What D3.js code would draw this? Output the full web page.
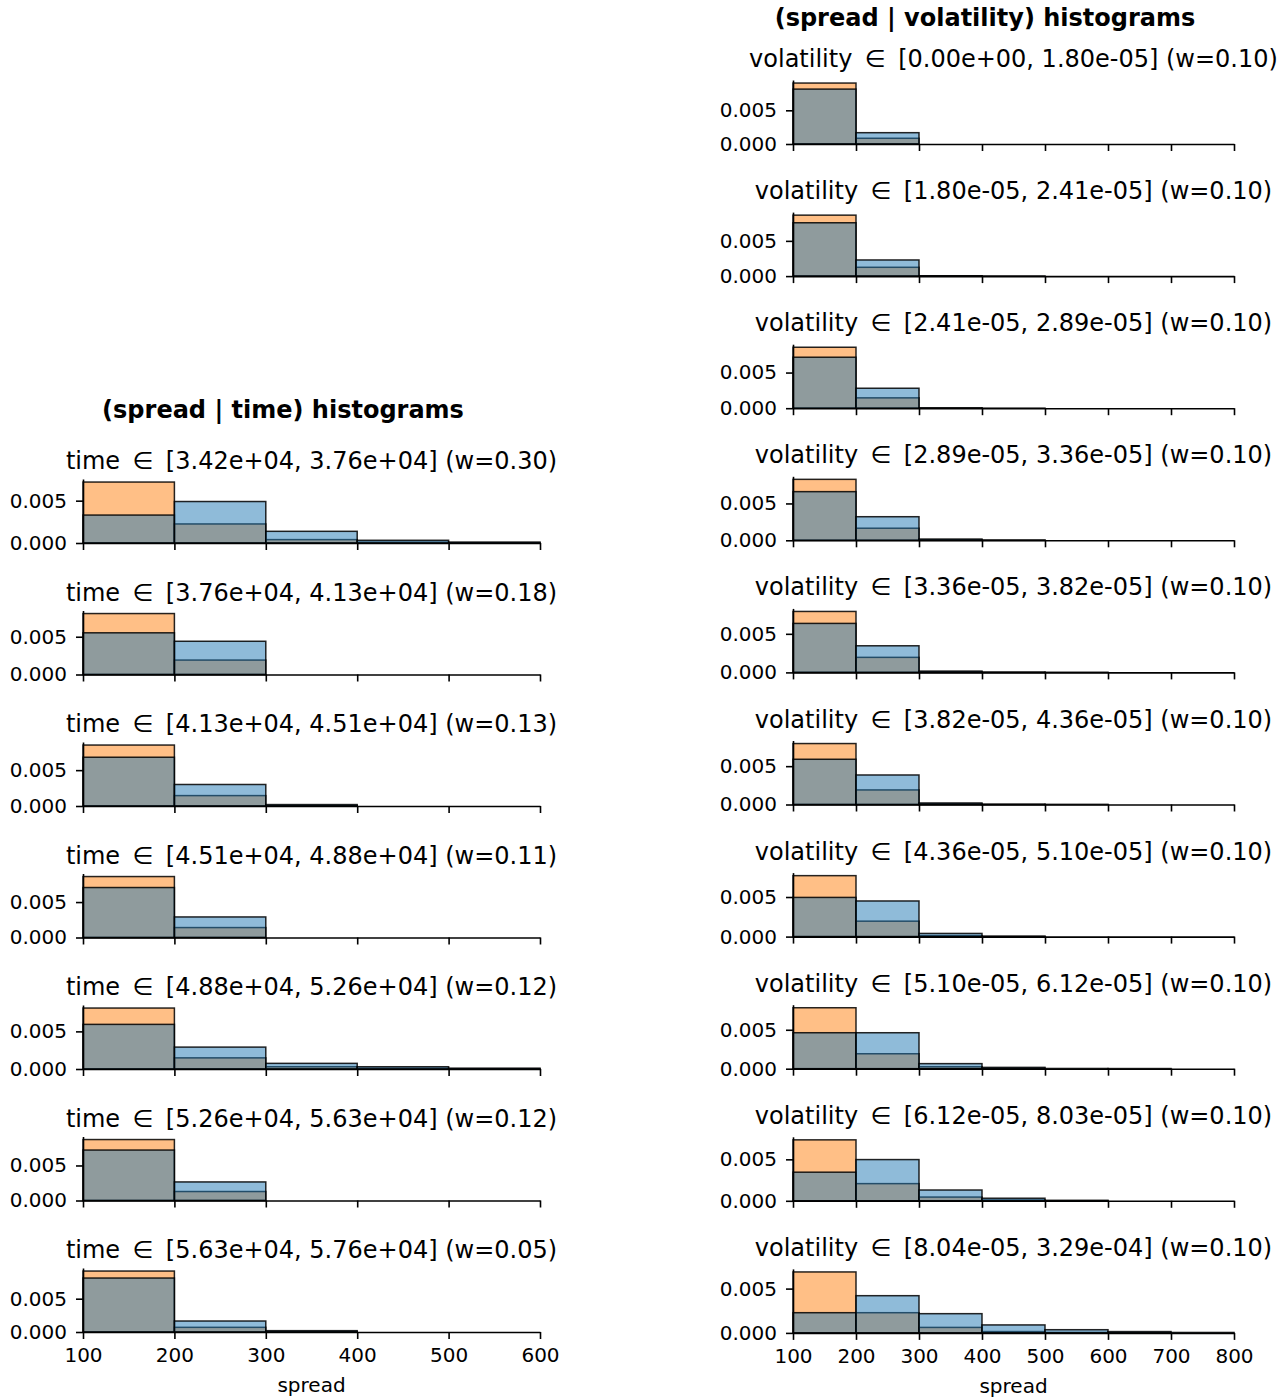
<!DOCTYPE html>
<html>
<head>
<meta charset="utf-8">
<script src="https://cdn.jsdelivr.net/npm/d3@7"></script>
<style>
  html, body { margin: 0; padding: 0; background: #fff; }
  svg { display: block; }
  text { font-family: "DejaVu Sans", sans-serif; fill: #000; }
</style>
</head>
<body>
<svg id="chart" width="1287" height="1399"></svg>
<script>
// ---- data ------------------------------------------------------------------
// spread bins are 100 wide starting at 100; densities per bin
const binStart = 100;
const binWidth = 100;

const timeRanges = [
  ["3.42e+04", "3.76e+04"], ["3.76e+04", "4.13e+04"], ["4.13e+04", "4.51e+04"],
  ["4.51e+04", "4.88e+04"], ["4.88e+04", "5.26e+04"], ["5.26e+04", "5.63e+04"],
  ["5.63e+04", "5.76e+04"]
];
const timeWeights = ["0.30", "0.18", "0.13", "0.11", "0.12", "0.12", "0.05"];

const timeOrange = [
  [0.00720, 0.00225, 0.00040, 0.00010, 0.00005],
  [0.00807, 0.00191],
  [0.00850, 0.00145, 0.00005],
  [0.00860, 0.00140],
  [0.00810, 0.00148, 0.00030, 0.00010, 0.00005],
  [0.00870, 0.00128],
  [0.00915, 0.00070, 0.00005]
];
const timeBlue = [
  [0.00330, 0.00490, 0.00138, 0.00032, 0.00010],
  [0.00552, 0.00440],
  [0.00680, 0.00300, 0.00020],
  [0.00705, 0.00290],
  [0.00593, 0.00291, 0.00075, 0.00030, 0.00010],
  [0.00720, 0.00265],
  [0.00810, 0.00165, 0.00020]
];

const volRanges = [
  ["0.00e+00", "1.80e-05"], ["1.80e-05", "2.41e-05"], ["2.41e-05", "2.89e-05"],
  ["2.89e-05", "3.36e-05"], ["3.36e-05", "3.82e-05"], ["3.82e-05", "4.36e-05"],
  ["4.36e-05", "5.10e-05"], ["5.10e-05", "6.12e-05"], ["6.12e-05", "8.03e-05"],
  ["8.04e-05", "3.29e-04"]
];
const volWeights = ["0.10", "0.10", "0.10", "0.10", "0.10", "0.10", "0.10", "0.10", "0.10", "0.10"];

const volOrange = [
  [0.00905, 0.00085],
  [0.00865, 0.00125, 0.00003],
  [0.00855, 0.00145, 0.00002],
  [0.00827, 0.00164, 0.00005, 0.00001],
  [0.00790, 0.00195, 0.00006, 0.00002],
  [0.00795, 0.00190, 0.00007, 0.00002],
  [0.00770, 0.00195, 0.00012, 0.00002],
  [0.00783, 0.00192, 0.00025, 0.00005],
  [0.00735, 0.00207, 0.00045, 0.00010, 0.00002],
  [0.00688, 0.00228, 0.00062, 0.00015, 0.00005, 0.00002]
];
const volBlue = [
  [0.00815, 0.00168],
  [0.00757, 0.00229, 0.00005, 0.00002],
  [0.00715, 0.00280, 0.00005, 0.00001],
  [0.00660, 0.00320, 0.00017, 0.00003],
  [0.00635, 0.00345, 0.00017, 0.00003, 0.00002],
  [0.00590, 0.00385, 0.00020, 0.00003, 0.00002],
  [0.00495, 0.00450, 0.00040, 0.00005],
  [0.00462, 0.00462, 0.00065, 0.00017, 0.00003, 0.00002],
  [0.00345, 0.00497, 0.00130, 0.00031, 0.00005],
  [0.00228, 0.00420, 0.00217, 0.00090, 0.00036, 0.00015, 0.00005]
];

const timeXTicks = [100, 200, 300, 400, 500, 600];
const volXTicks = [100, 200, 300, 400, 500, 600, 700, 800];
const yTicks = [0, 0.005];

// ---- drawing ---------------------------------------------------------------
const svg = d3.select("#chart");
svg.append("rect").attr("width", 1287).attr("height", 1399).attr("fill", "#fff");

const axisH = 64;
const tickFont = 20;
const titleFont = 24;

function drawPanel(opts) {
  const { x0, x1, bottom, orange, blue, title, xTicks, showXLabels, titleGap } = opts;
  const g = svg.append("g");
  const x = d3.scaleLinear().domain([xTicks[0], xTicks[xTicks.length - 1]]).range([x0, x1]);
  const ymax = d3.max(orange.concat(blue)) * 1.05;
  const y = d3.scaleLinear().domain([0, ymax]).range([bottom, bottom - axisH]);

  const series = [
    { vals: orange, color: "#ff7f0e" },
    { vals: blue, color: "#1f77b4" }
  ];
  series.forEach(s => {
    g.append("g").selectAll("rect")
      .data(s.vals.map((v, i) => ({ lo: binStart + i * binWidth, hi: binStart + (i + 1) * binWidth, v })))
      .join("rect")
      .attr("x", d => x(d.lo))
      .attr("width", d => x(d.hi) - x(d.lo))
      .attr("y", d => y(d.v))
      .attr("height", d => y(0) - y(d.v))
      .attr("fill", s.color)
      .attr("fill-opacity", 0.5)
      .attr("stroke", "#000")
      .attr("stroke-opacity", 0.85)
      .attr("stroke-width", 1.5);
  });

  const yAxis = d3.axisLeft(y).tickValues(yTicks).tickFormat(d3.format(".3f"))
    .tickSize(7).tickSizeOuter(0).tickPadding(9);
  const ya = g.append("g").attr("transform", `translate(${x0},0)`).call(yAxis);

  const xAxis = d3.axisBottom(x).tickValues(xTicks).tickSize(7).tickSizeOuter(0).tickPadding(9);
  if (!showXLabels) xAxis.tickFormat(() => "");
  const xa = g.append("g").attr("transform", `translate(0,${bottom})`).call(xAxis);

  [ya, xa].forEach(a => {
    a.selectAll("path.domain").attr("stroke", "#000").attr("stroke-width", 1.6);
    a.selectAll(".tick line").attr("stroke", "#000").attr("stroke-width", 1.6);
    a.selectAll(".tick text").attr("font-size", tickFont).attr("font-family", "DejaVu Sans").attr("fill", "#000");
  });

  g.append("text")
    .attr("x", (x0 + x1) / 2)
    .attr("y", bottom - axisH - titleGap)
    .attr("text-anchor", "middle")
    .attr("font-size", titleFont)
    .style("white-space", "pre")
    .text(title);

  if (showXLabels) {
    g.append("text")
      .attr("x", (x0 + x1) / 2)
      .attr("y", bottom + 60)
      .attr("text-anchor", "middle")
      .attr("font-size", tickFont)
      .text("spread");
  }
}

// left column: spread conditioned on time
const left = { x0: 83, x1: 540, firstBottom: 543, step: 131.5, titleGap: 10 };
svg.append("text")
  .attr("x", 283).attr("y", 418)
  .attr("text-anchor", "middle")
  .attr("font-size", titleFont).attr("font-weight", "bold")
  .text("(spread | time) histograms");

timeRanges.forEach((r, i) => {
  drawPanel({
    x0: left.x0, x1: left.x1,
    bottom: left.firstBottom + i * left.step,
    orange: timeOrange[i], blue: timeBlue[i],
    title: `time \u2009\u2208\u2009 [${r[0]}, ${r[1]}] (w=${timeWeights[i]})`,
    xTicks: timeXTicks,
    showXLabels: i === timeRanges.length - 1,
    titleGap: left.titleGap
  });
});

// right column: spread conditioned on volatility
const right = { x0: 793, x1: 1234, firstBottom: 144, step: 132.1, titleGap: 13 };
svg.append("text")
  .attr("x", 985).attr("y", 26)
  .attr("text-anchor", "middle")
  .attr("font-size", titleFont).attr("font-weight", "bold")
  .text("(spread | volatility) histograms");

volRanges.forEach((r, i) => {
  drawPanel({
    x0: right.x0, x1: right.x1,
    bottom: right.firstBottom + i * right.step,
    orange: volOrange[i], blue: volBlue[i],
    title: `volatility \u2009\u2208\u2009 [${r[0]}, ${r[1]}] (w=${volWeights[i]})`,
    xTicks: volXTicks,
    showXLabels: i === volRanges.length - 1,
    titleGap: right.titleGap
  });
});
</script>
</body>
</html>
